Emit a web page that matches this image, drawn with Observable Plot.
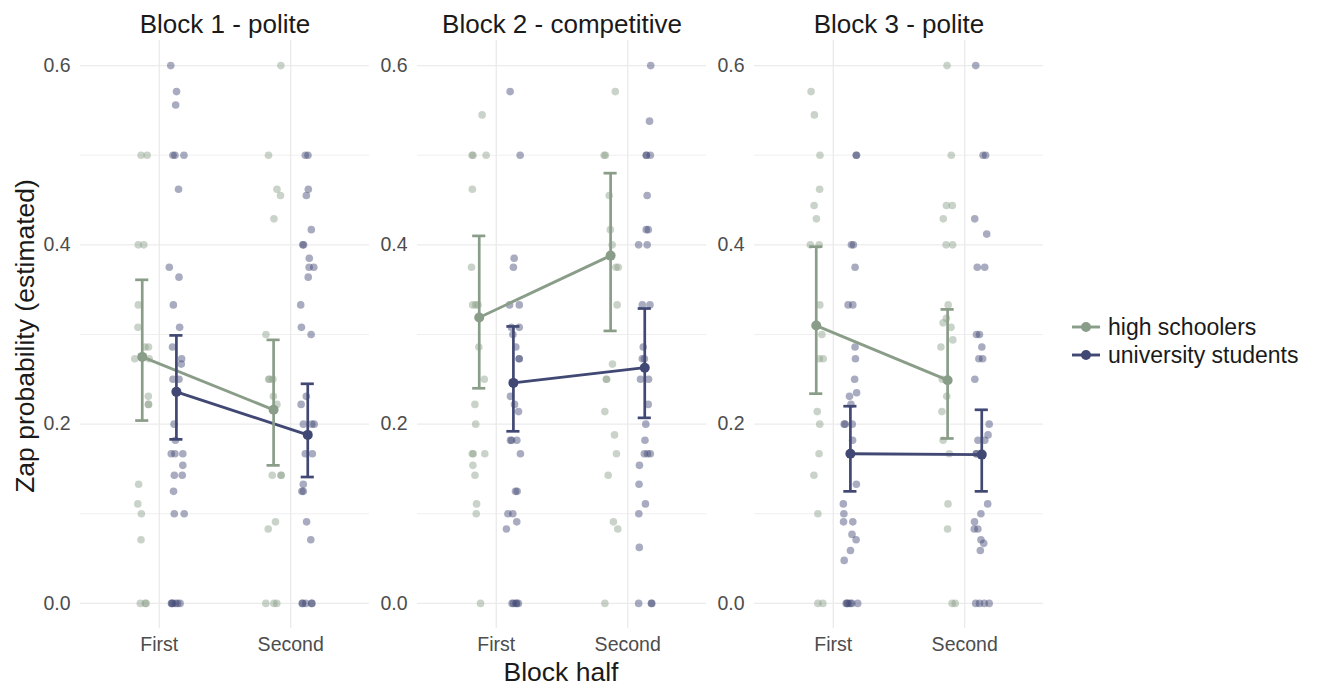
<!DOCTYPE html>
<html>
<head>
<meta charset="utf-8">
<script src="https://cdn.jsdelivr.net/npm/d3@7"></script>
<script src="https://cdn.jsdelivr.net/npm/@observablehq/plot@0.6"></script>
<style>
  html, body { margin: 0; padding: 0; background: #fff; }
  #wrap { position: relative; width: 1317px; height: 686px; font-family: "Liberation Sans", Arial, Helvetica, sans-serif; }
  #chart { position: absolute; left: 0; top: 0; }
  .ytitle { position: absolute; left: 25px; top: 336px; transform: translate(-50%, -50%) rotate(-90deg); white-space: nowrap; font-size: 26.5px; color: #1a1a1a; }
  .xtitle { position: absolute; left: 561px; top: 672px; transform: translate(-50%, -50%); white-space: nowrap; font-size: 26.5px; color: #1a1a1a; }
  #legend { position: absolute; left: 1068px; top: 313px; font-size: 23px; color: #1a1a1a; }
  #legend .row { display: flex; align-items: center; height: 28px; }
  #legend svg { margin-right: 6px; }
</style>
</head>
<body>
<div id="wrap">
  <div id="chart"></div>
  <div class="ytitle">Zap probability (estimated)</div>
  <div class="xtitle">Block half</div>
  <div id="legend"></div>
</div>
<script>
// ---------- data ----------
const blocks = ["Block 1 - polite", "Block 2 - competitive", "Block 3 - polite"];
const halves = ["First", "Second"];
const groups = ["high schoolers", "university students"];
const groupColors = ["#8a9d88", "#414873"];
const yTicks = [0, 0.2, 0.4, 0.6];
const yMinorTicks = [0.1, 0.3, 0.5];

// individual estimates (block, group, half)
const b1HsFirst = [0.5, 0.5, 0.4, 0.4, 0.333, 0.308, 0.286, 0.286, 0.273, 0.273, 0.231, 0.222, 0.222, 0.133, 0.111, 0.1, 0.071, 0, 0, 0];
const b1HsSecond = [0.6, 0.5, 0.462, 0.455, 0.429, 0.3, 0.25, 0.25, 0.25, 0.231, 0.222, 0.143, 0.143, 0.143, 0.091, 0.083, 0, 0, 0];
const b1UniFirst = [0.6, 0.571, 0.556, 0.5, 0.5, 0.5, 0.462, 0.375, 0.364, 0.333, 0.308, 0.286, 0.273, 0.267, 0.25, 0.25, 0.2, 0.182, 0.167, 0.167, 0.167, 0.154, 0.143, 0.143, 0.125, 0.1, 0.1, 0, 0, 0, 0, 0, 0];
const b1UniSecond = [0.5, 0.5, 0.462, 0.455, 0.417, 0.4, 0.4, 0.385, 0.375, 0.375, 0.364, 0.333, 0.308, 0.3, 0.231, 0.222, 0.2, 0.2, 0.2, 0.167, 0.167, 0.133, 0.125, 0.125, 0.091, 0.071, 0, 0, 0, 0, 0];
const b2HsFirst = [0.545, 0.5, 0.5, 0.5, 0.462, 0.375, 0.333, 0.333, 0.333, 0.286, 0.25, 0.222, 0.2, 0.167, 0.167, 0.167, 0.154, 0.143, 0.111, 0.1, 0];
const b2HsSecond = [0.571, 0.5, 0.5, 0.455, 0.417, 0.4, 0.375, 0.375, 0.333, 0.267, 0.25, 0.25, 0.214, 0.188, 0.167, 0.143, 0.091, 0.083, 0];
const b2UniFirst = [0.571, 0.5, 0.385, 0.375, 0.333, 0.333, 0.308, 0.308, 0.3, 0.286, 0.273, 0.273, 0.231, 0.222, 0.214, 0.182, 0.182, 0.182, 0.167, 0.125, 0.125, 0.1, 0.1, 0.091, 0.083, 0, 0, 0, 0, 0];
const b2UniSecond = [0.6, 0.538, 0.5, 0.5, 0.5, 0.455, 0.417, 0.417, 0.4, 0.4, 0.333, 0.333, 0.286, 0.273, 0.273, 0.25, 0.25, 0.222, 0.2, 0.182, 0.167, 0.167, 0.167, 0.154, 0.133, 0.111, 0.1, 0.0625, 0, 0, 0];
const b3HsFirst = [0.571, 0.545, 0.5, 0.462, 0.444, 0.429, 0.4, 0.4, 0.333, 0.3, 0.273, 0.273, 0.214, 0.2, 0.167, 0.143, 0.1, 0, 0];
const b3HsSecond = [0.6, 0.5, 0.444, 0.444, 0.429, 0.4, 0.4, 0.333, 0.318, 0.313, 0.308, 0.294, 0.286, 0.25, 0.231, 0.214, 0.182, 0.167, 0.111, 0.083, 0, 0];
const b3UniFirst = [0.5, 0.5, 0.4, 0.4, 0.375, 0.333, 0.333, 0.286, 0.273, 0.25, 0.235, 0.231, 0.222, 0.2, 0.2, 0.2, 0.182, 0.133, 0.111, 0.1, 0.091, 0.091, 0.077, 0.071, 0.059, 0.048, 0, 0, 0, 0, 0, 0];
const b3UniSecond = [0.6, 0.5, 0.5, 0.429, 0.412, 0.375, 0.375, 0.3, 0.3, 0.286, 0.273, 0.273, 0.25, 0.2, 0.188, 0.182, 0.182, 0.167, 0.167, 0.111, 0.1, 0.091, 0.083, 0.083, 0.071, 0.067, 0.059, 0, 0, 0, 0];

// model estimates per block: [First, Second]
const hsMean  = [[0.275, 0.216], [0.319, 0.388], [0.310, 0.249]];
const hsLower = [[0.204, 0.154], [0.240, 0.304], [0.234, 0.184]];
const hsUpper = [[0.361, 0.294], [0.410, 0.480], [0.398, 0.328]];
const uniMean  = [[0.236, 0.188], [0.246, 0.263], [0.167, 0.166]];
const uniLower = [[0.183, 0.141], [0.192, 0.207], [0.125, 0.125]];
const uniUpper = [[0.299, 0.245], [0.309, 0.329], [0.220, 0.216]];

// ---------- tables ----------
const raw = [
  [b1HsFirst, b1HsSecond, b1UniFirst, b1UniSecond],
  [b2HsFirst, b2HsSecond, b2UniFirst, b2UniSecond],
  [b3HsFirst, b3HsSecond, b3UniFirst, b3UniSecond]
];
const dodge = {"high schoolers": -0.13, "university students": 0.13};
const jitter = d3.randomUniform.source(d3.randomLcg(0.4217))(-0.06, 0.06);

const points = [];
raw.forEach((sets, bi) => {
  sets.forEach((vals, si) => {
    const group = groups[si < 2 ? 0 : 1];
    const half = si % 2;
    vals.forEach(v => points.push({block: blocks[bi], group, half: half + 1, value: v, jit: jitter()}));
  });
});

const summary = [];
blocks.forEach((b, bi) => {
  [0, 1].forEach(h => {
    summary.push({block: b, group: groups[0], half: h + 1, mean: hsMean[bi][h], lo: hsLower[bi][h], hi: hsUpper[bi][h]});
    summary.push({block: b, group: groups[1], half: h + 1, mean: uniMean[bi][h], lo: uniLower[bi][h], hi: uniUpper[bi][h]});
  });
});

const xPos = d => d.half + dodge[d.group];
const capW = 0.05;

const chart = Plot.plot({
  width: 1050,
  height: 686,
  marginLeft: 80,
  marginRight: 7,
  marginTop: 40,
  marginBottom: 58,
  style: {fontFamily: "'Liberation Sans', Arial, Helvetica, sans-serif", fontSize: "19.5px", color: "#4d4d4d", background: "white"},
  fx: {domain: blocks, paddingInner: 48 / 337, paddingOuter: 0, round: false},
  x: {domain: [0.4, 2.6]},
  y: {domain: [-0.028, 0.628]},
  color: {domain: groups, range: groupColors},
  marks: [
    Plot.gridY(yMinorTicks, {stroke: "#ebebeb", strokeOpacity: 1, strokeWidth: 0.8}),
    Plot.gridY(yTicks, {stroke: "#ebebeb", strokeOpacity: 1, strokeWidth: 1.4}),
    Plot.gridX([1, 2], {stroke: "#ebebeb", strokeOpacity: 1, strokeWidth: 1.4}),
    Plot.axisY(yTicks, {tickSize: 0, tickPadding: 10, tickFormat: d3.format(".1f"), label: null, facetAnchor: null, fill: "#4d4d4d", fontSize: 19.5}),
    Plot.axisX([1, 2], {tickSize: 0, tickPadding: 9, tickFormat: d => halves[d - 1], label: null, fill: "#4d4d4d", fontSize: 19.5}),
    Plot.axisFx({anchor: "top", tickSize: 0, tickPadding: 8, label: null, fill: "#1a1a1a", fontSize: 26}),
    Plot.dot(points, {fx: "block", x: d => xPos(d) + d.jit, y: "value", fill: "group", fillOpacity: 0.45, r: 3.8, stroke: null}),
    Plot.line(summary, {fx: "block", x: xPos, y: "mean", z: "group", stroke: "group", strokeWidth: 2.9}),
    Plot.ruleX(summary, {fx: "block", x: xPos, y1: "lo", y2: "hi", stroke: "group", strokeWidth: 2.7}),
    Plot.ruleY(summary, {fx: "block", y: "lo", x1: d => xPos(d) - capW, x2: d => xPos(d) + capW, stroke: "group", strokeWidth: 2.7}),
    Plot.ruleY(summary, {fx: "block", y: "hi", x1: d => xPos(d) - capW, x2: d => xPos(d) + capW, stroke: "group", strokeWidth: 2.7}),
    Plot.dot(summary, {fx: "block", x: xPos, y: "mean", fill: "group", r: 5, stroke: null})
  ]
});
document.getElementById("chart").appendChild(chart);

// ---------- legend ----------
const legend = document.getElementById("legend");
groups.forEach((g, i) => {
  const row = document.createElement("div");
  row.className = "row";
  row.innerHTML = `<svg width="34" height="28"><line x1="4" x2="32" y1="14" y2="14" stroke="${groupColors[i]}" stroke-width="2.9"/><circle cx="18" cy="14" r="5" fill="${groupColors[i]}"/></svg><span>${g}</span>`;
  legend.appendChild(row);
});
</script>
</body>
</html>
